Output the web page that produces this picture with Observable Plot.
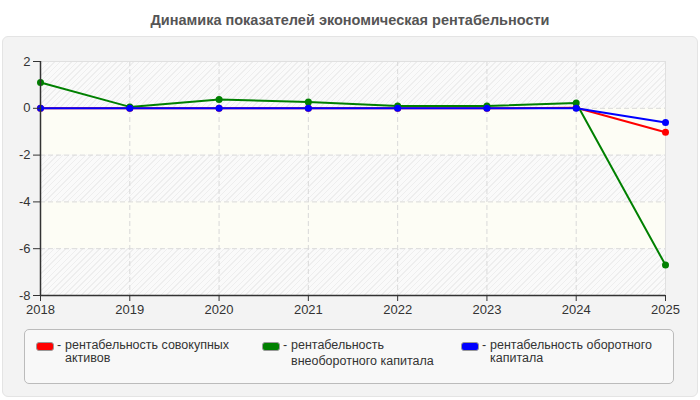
<!DOCTYPE html>
<html>
<head>
<meta charset="utf-8">
<script src="https://cdn.jsdelivr.net/npm/d3@7"></script>
<script src="https://cdn.jsdelivr.net/npm/@observablehq/plot@0.6"></script>
<style>
  body { margin: 0; background: #fff; font-family: "Liberation Sans", Arial, sans-serif; }
  #root { position: relative; width: 700px; height: 400px; overflow: hidden; }
  #title { position: absolute; left: 0; top: 12px; width: 700px; text-align: center; font-weight: bold; font-size: 14.5px; color: #555; }
  #panel { position: absolute; left: 2px; top: 36px; width: 694px; height: 359px; background: #f3f3f3; border: 1px solid #e4e4e4; border-radius: 6px; }
  #hatch { position: absolute; left: 40px; top: 61px; width: 625px; height: 234px;
    background: repeating-linear-gradient(-45deg, #eeeeee 0px, #eeeeee 1px, #fafafa 1px, #fafafa 4px); }
  #chart { position: absolute; left: 0; top: 36px; }
  #legend { position: absolute; left: 24px; top: 329px; width: 648px; height: 53px; background: #f8f8f8; border: 1px solid #bbb; border-radius: 5px; }
  .item { position: absolute; top: 9px; font-size: 12.5px; color: #333; line-height: 13px; }
  .sw { position: absolute; top: 3px; width: 16px; height: 7px; border: 1px solid #999; border-radius: 3px; }
  .dash { position: absolute; top: 0; }
  .txt { position: absolute; top: 0; white-space: nowrap; }
</style>
</head>
<body>
<div id="root">
  <div id="title"></div>
  <div id="panel"></div>
  <div id="hatch"></div>
  <div id="chart"></div>
  <div id="legend"></div>
</div>
<script>
const title = "Динамика показателей экономическая рентабельности";
const years = [2018, 2019, 2020, 2021, 2022, 2023, 2024, 2025];
const seriesNames = [
  "рентабельность совокупных активов",
  "рентабельность внеоборотного капитала",
  "рентабельность оборотного капитала"
];
const legendLines = [
  ["рентабельность совокупных", "активов"],
  ["рентабельность", "внеоборотного капитала"],
  ["рентабельность оборотного", "капитала"]
];
const colors = ["#ff0000", "#008000", "#0000ff"];
const totalAssets = [0, 0, 0, 0, 0, 0, 0.02, -1.02];
const nonCurrent = [1.1, 0.06, 0.38, 0.27, 0.1, 0.1, 0.23, -6.7];
const current = [0, 0, 0, 0, 0, 0, 0, -0.61];
const yTicks = [2, 0, -2, -4, -6, -8];
const bandTop = [0, -4];
const bandBottom = [-2, -6];

document.getElementById("title").textContent = title;

const values = [totalAssets, nonCurrent, current];
const rows = [];
values.forEach((vals, s) => vals.forEach((v, i) => rows.push({series: seriesNames[s], year: years[i], value: v})));
const bands = bandTop.map((t, i) => ({y1: t, y2: bandBottom[i]}));

const lineMarks = [];
seriesNames.forEach((name, s) => {
  const d = rows.filter(r => r.series === name);
  lineMarks.push(Plot.line(d, {x: "year", y: "value", stroke: colors[s], strokeWidth: 2}));
  lineMarks.push(Plot.dot(d, {x: "year", y: "value", fill: colors[s], r: 3.5}));
});

const chart = Plot.plot({
  width: 700,
  height: 289,
  marginTop: 25,
  marginLeft: 40,
  marginRight: 35,
  marginBottom: 30,
  style: {background: "transparent", fontFamily: "'Liberation Sans', Arial, sans-serif", color: "#333"},
  x: {domain: [years[0], years[years.length - 1]]},
  y: {domain: [yTicks[yTicks.length - 1], yTicks[0]]},
  marks: [
    Plot.rect(bands, {x1: years[0], x2: years[years.length - 1], y1: "y1", y2: "y2", fill: "#fdfdf5"}),
    Plot.gridY(yTicks, {stroke: "#d9d9d9", strokeOpacity: 1, strokeDasharray: "5,3"}),
    Plot.gridX(years, {stroke: "#d9d9d9", strokeOpacity: 1, strokeDasharray: "5,3"}),
    Plot.ruleY([yTicks[0]], {stroke: "#e0e0e0"}),
    Plot.ruleX([years[years.length - 1]], {stroke: "#e0e0e0"}),
    ...lineMarks,
    Plot.ruleX([years[0]], {stroke: "#333", strokeWidth: 1.5}),
    Plot.ruleY([yTicks[yTicks.length - 1]], {stroke: "#333", strokeWidth: 1.5}),
    Plot.axisY(yTicks, {tickSize: 7, tickPadding: 3, fontSize: 13, label: null, tickFormat: d => d < 0 ? "-" + Math.abs(d) : String(d)}),
    Plot.axisX(years, {tickSize: 6, tickPadding: 3, fontSize: 13, label: null, tickFormat: d => String(d)})
  ]
});
document.getElementById("chart").appendChild(chart);

const legend = document.getElementById("legend");
const itemX = [11, 237, 436];
const secondLineGap = [0, 3, 0];
legendLines.forEach((lines, s) => {
  const it = document.createElement("div");
  it.className = "item";
  it.style.left = itemX[s] + "px";
  const sw = document.createElement("div");
  sw.className = "sw";
  sw.style.left = "0px";
  sw.style.background = colors[s];
  it.appendChild(sw);
  const dash = document.createElement("div");
  dash.className = "dash";
  dash.style.left = "21px";
  dash.textContent = "-";
  it.appendChild(dash);
  const txt = document.createElement("div");
  txt.className = "txt";
  txt.style.left = "29px";
  txt.innerHTML = `<div>${lines[0]}</div><div style="margin-top:${secondLineGap[s]}px">${lines[1]}</div>`;
  it.appendChild(txt);
  legend.appendChild(it);
});
</script>
</body>
</html>
